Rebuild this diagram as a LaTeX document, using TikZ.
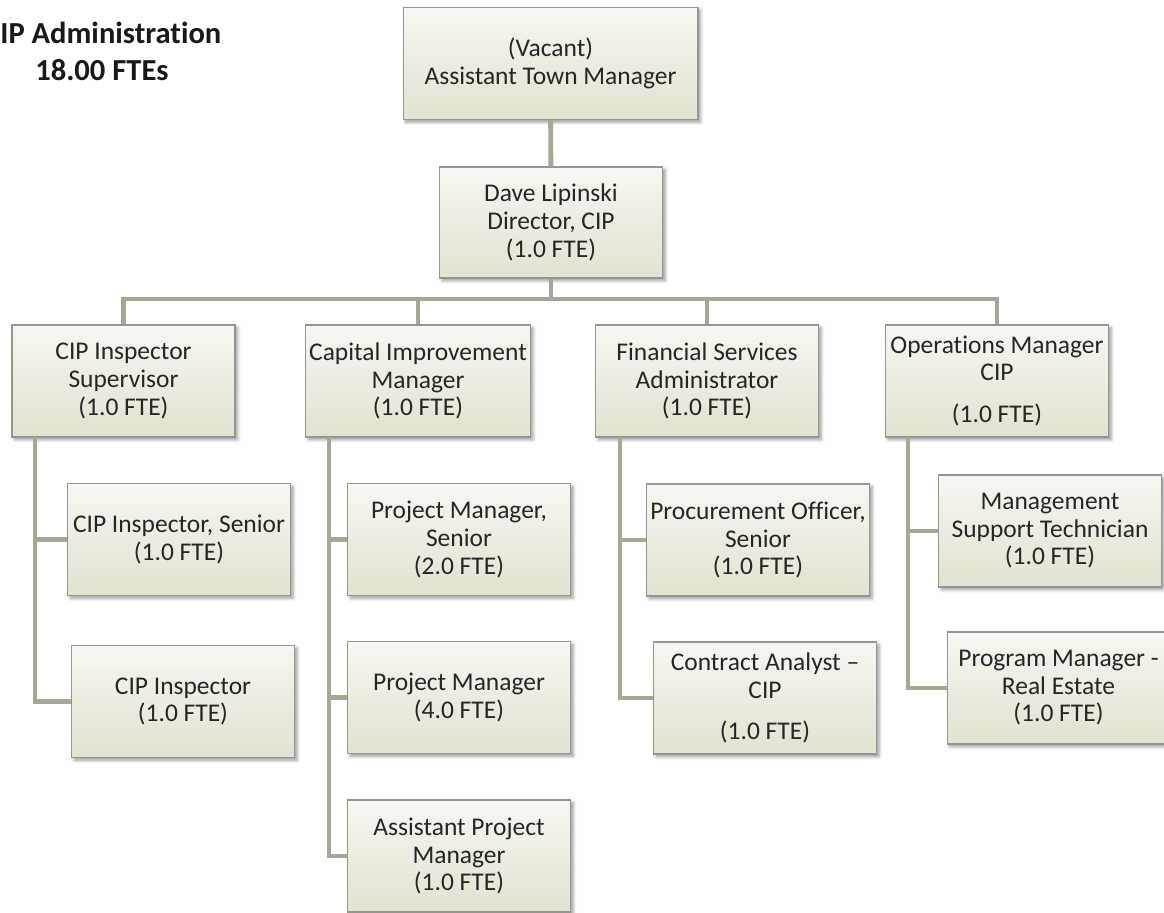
\documentclass[tikz,border=0pt]{standalone}
\usepackage{fontspec}
\setmainfont{Carlito}[Ligatures=NoCommon]
\usepackage{tikz}
\usetikzlibrary{shadows.blur}
\definecolor{boxtop}{RGB}{247,246,241}
\definecolor{boxbot}{RGB}{227,225,208}
\definecolor{boxline}{RGB}{150,150,144}
\definecolor{linkcol}{RGB}{168,166,150}

\begin{document}
\begin{tikzpicture}[x=0.02cm, y=-0.02cm,
  role/.style = {draw=boxline, line width=0.6pt, top color=boxtop, bottom color=boxbot,
                 blur shadow={shadow xshift=1.5pt, shadow yshift=-1.5pt, shadow blur steps=5},
                 minimum width=4.46cm, minimum height=2.24cm, align=center, inner sep=2pt,
                 font=\fontsize{14.5}{15.7}\selectfont, text=black!85},
  head/.style = {font=\fontsize{17.4}{21}\selectfont\bfseries, inner sep=0pt, text=black!90},
  e/.style    = {draw=linkcol, line width=2.8pt}]
\useasboundingbox (0,0) rectangle (1164,913);

% --- title ------------------------------------------------------------
\node[head, anchor=base west] (ttl) at (0,43)  {IP Administration};
\node[head, anchor=base]      (fte) at (102,80) {18.00 FTEs};

% --- top --------------------------------------------------------------
\node[role, minimum width=5.9cm] (atm) at (550.5,63.5) {(Vacant)\\Assistant Town Manager};
\node[role, minimum height=2.22cm] (dir) at (551,222.5) {Dave Lipinski\\Director, CIP\\(1.0 FTE)};

% --- managers ---------------------------------------------------------
\node[role] (sup) at (123.5,381) {CIP Inspector\\Supervisor\\(1.0 FTE)};
\node[role] (cap) at (418,381)   {Capital Improvement\\Manager\\(1.0 FTE)};
\node[role] (fin) at (707,381)   {Financial Services\\Administrator\\(1.0 FTE)};
\node[role] (ops) at (997,381)   {Operations Manager\\CIP\\[8pt](1.0 FTE)};

% --- staff ------------------------------------------------------------
\node[role] (insps) at (179,539.5) {CIP Inspector, Senior\\(1.0 FTE)};
\node[role] (insp)  at (183,701.5) {CIP Inspector\\(1.0 FTE)};
\node[role] (pms)   at (459,539.5) {Project Manager,\\Senior\\(2.0 FTE)};
\node[role] (pm)    at (459,697.5) {Project Manager\\(4.0 FTE)};
\node[role] (apm)   at (459,856)   {Assistant Project\\Manager\\(1.0 FTE)};
\node[role] (po)    at (758,540)   {Procurement Officer,\\Senior\\(1.0 FTE)};
\node[role] (ca)    at (765,698)   {Contract Analyst --\\CIP\\[8pt](1.0 FTE)};
\node[role] (mst)   at (1050,531)  {Management\\Support Technician\\(1.0 FTE)};
\node[role] (pgm)   at (1058.5,688) {Program Manager -\\Real Estate\\(1.0 FTE)};

% --- edges ------------------------------------------------------------
\coordinate (bus) at (551,299);
\draw[e] (atm) -- (dir);
\draw[e] (dir.south) -- (bus);
\draw[e] (sup.north) |- (bus) -| (ops.north);
\draw[e] (cap.north) -- (cap.north |- bus);
\draw[e] (fin.north) -- (fin.north |- bus);

\coordinate (sv) at (35,437);
\coordinate (cv) at (329,437);
\coordinate (fv) at (620,437);
\coordinate (ov) at (908,437);
\draw[e] (sv) |- (insp.west);  \draw[e] (sv |- insps.west) -- (insps.west);
\draw[e] (cv) |- (apm.west);   \draw[e] (cv |- pms.west) -- (pms.west);
\draw[e] (cv |- pm.west) -- (pm.west);
\draw[e] (fv) |- (ca.west);    \draw[e] (fv |- po.west) -- (po.west);
\draw[e] (ov) |- (pgm.west);   \draw[e] (ov |- mst.west) -- (mst.west);
\end{tikzpicture}
\end{document}
